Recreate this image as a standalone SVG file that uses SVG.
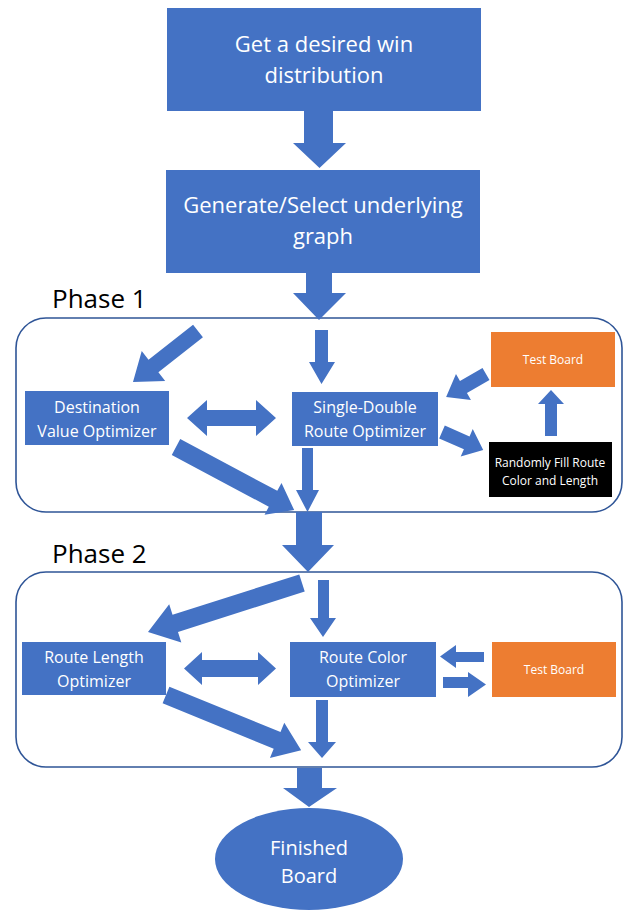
<svg xmlns="http://www.w3.org/2000/svg" width="626" height="911" viewBox="0 0 626 911">
<style>
.b{fill:#4472C4}
.o{fill:#ED7D31}
.k{fill:#000}
.c{fill:#fff;stroke:#2F5597;stroke-width:1.6}
.a{fill:#4472C4}
text{font-family:"Open Sans","Liberation Sans",sans-serif;fill:#fff;text-anchor:middle}
.big{font-size:22px}
.mid{font-size:16px}
.sm{font-size:12px}
.ph{font-size:26px;fill:#000;text-anchor:start}
</style>
<rect width="626" height="911" fill="#fff"/>

<g id="phase1">
<rect class="c" x="16" y="318" width="606" height="194" rx="30"/>
<text class="ph" x="52" y="308">Phase 1</text>
</g>
<g id="phase2">
<rect class="c" x="16" y="572" width="606" height="195" rx="30"/>
<text class="ph" x="52" y="563">Phase 2</text>
</g>

<g id="win">
<rect class="b" x="167" y="8" width="314" height="103"/>
<text class="big" x="324" y="52">Get a desired win</text>
<text class="big" x="324" y="83">distribution</text>
</g>
<g id="graph">
<rect class="b" x="166" y="170" width="314" height="103"/>
<text class="big" x="323" y="213">Generate/Select underlying</text>
<text class="big" x="323" y="244">graph</text>
</g>
<g id="dest">
<rect class="b" x="25" y="391" width="144" height="54"/>
<text class="mid" x="97" y="413">Destination</text>
<text class="mid" x="97" y="437">Value Optimizer</text>
</g>
<g id="sd">
<rect class="b" x="292" y="392" width="146" height="54"/>
<text class="mid" x="365" y="413">Single-Double</text>
<text class="mid" x="365" y="437">Route Optimizer</text>
</g>
<g id="test1">
<rect class="o" x="491" y="332" width="124" height="55"/>
<text class="sm" x="553" y="364">Test Board</text>
</g>
<g id="random">
<rect class="k" x="489" y="442" width="123" height="55"/>
<text class="sm" x="550" y="467">Randomly Fill Route</text>
<text class="sm" x="550" y="485">Color and Length</text>
</g>
<g id="length">
<rect class="b" x="22" y="642" width="144" height="53"/>
<text class="mid" x="94" y="663">Route Length</text>
<text class="mid" x="94" y="687">Optimizer</text>
</g>
<g id="color">
<rect class="b" x="290" y="642" width="146" height="55"/>
<text class="mid" x="363" y="663">Route Color</text>
<text class="mid" x="363" y="687">Optimizer</text>
</g>
<g id="test2">
<rect class="o" x="492" y="642" width="124" height="55"/>
<text class="sm" x="554" y="674">Test Board</text>
</g>
<g id="finished">
<ellipse class="b" cx="309" cy="859" rx="94" ry="51"/>
<text style="font-size:20px" x="309" y="855">Finished</text>
<text style="font-size:20px" x="309" y="883">Board</text>
</g>

<g id="connectors">
<polygon class="a" points="304,111 333,111 333,143 346,143 319.5,168 293,143 304,143"/>
<polygon class="a" points="306,273 332,273 332,293 346,293 319,320 293,293 306,293"/>
<polygon class="a" transform="translate(198,331) rotate(141.9)" points="0,-8 56.6,-8 56.6,-19 82.6,0 56.6,19 56.6,8 0,8"/>
<polygon class="a" points="315,330 328,330 328,362 335,362 321.5,384 309,362 315,362"/>
<polygon class="a" points="187,418 207,400 207,410 256,410 256,400 276,418 256,436 256,426 207,426 207,436"/>
<polygon class="a" transform="translate(486,374) rotate(150.1)" points="0,-7 26,-7 26,-15 46,0 26,15 26,7 0,7"/>
<polygon class="a" points="545,436 557,436 557,404 564,404 551,390 538,404 545,404"/>
<polygon class="a" transform="translate(442,432) rotate(23.7)" points="0,-7 27,-7 27,-15 45,0 27,15 27,7 0,7"/>
<polygon class="a" transform="translate(176,447) rotate(28.1)" points="0,-9 110,-9 110,-18 134,0 110,18 110,9 0,9"/>
<polygon class="a" points="302,448 313,448 313,490 319,490 307.5,512 296,490 302,490"/>
<polygon class="a" points="296,512 322,512 322,545 334,545 308,572 282,545 296,545"/>
<polygon class="a" transform="translate(302,583) rotate(162.35)" points="0,-9 133,-9 133,-20 161.6,0 133,20 133,9 0,9"/>
<polygon class="a" points="318,580 329,580 329,618 336,618 323,637 310,618 318,618"/>
<polygon class="a" points="184,668.5 202,652 202,660 258,660 258,652 276,668.5 258,685 258,677 202,677 202,685"/>
<polygon class="a" points="484,652 456,652 456,645 440,656.5 456,668 456,662 484,662"/>
<polygon class="a" points="443,677 468,677 468,672 486,684.5 468,697 468,688 443,688"/>
<polygon class="a" transform="translate(166,695) rotate(22.2)" points="0,-9 120,-9 120,-19 146,0 120,19 120,9 0,9"/>
<polygon class="a" points="316,700 328,700 328,742 336,742 322,758 308,742 316,742"/>
<polygon class="a" points="297,768 322,768 322,788 337,788 309,807 283,788 297,788"/>
</g>
</svg>
